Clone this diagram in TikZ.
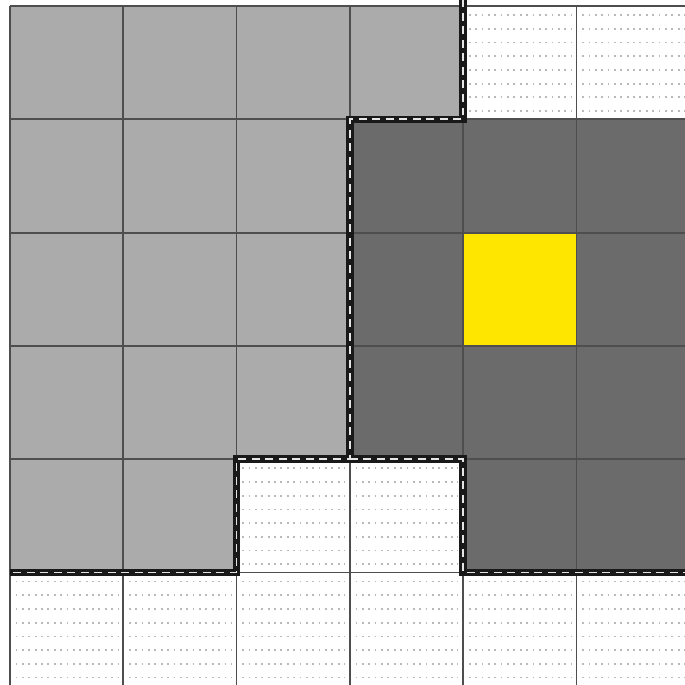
\documentclass[tikz,border=0pt]{standalone}
\usepackage{tikz}
\usetikzlibrary{calc}
\definecolor{lightcell}{HTML}{ABABAB}
\definecolor{darkcell}{HTML}{6B6B6B}
\definecolor{goalcell}{HTML}{FFE600}
\definecolor{gridgray}{HTML}{4E4E4E}

\begin{document}
\begin{tikzpicture}[
    cell/.style={fill=#1, draw=none},
    cell/.default={white},
    gridline/.style={draw=gridgray, line width=0.45pt},
    dotrow/.style={draw=gray!55, line width=0.45pt, dash pattern=on 0.45pt off 1.15pt},
    wall/.style={draw=black!90, line width=1.9pt, line join=miter},
    walldash/.style={draw=white!90!black, line width=0.45pt, dash pattern=on 2pt off 1.4pt},
]
\useasboundingbox (-0.088,0.016) rectangle (5.958,6.053);

% ===== CELLS =====
\fill[cell] (0,0) rectangle (6,6);
\fill[cell=lightcell] (0,1) -- (0,6) -- (4,6) -- (4,5) -- (3,5) -- (3,2) -- (2,2) -- (2,1) -- cycle;
\fill[cell=darkcell] (3,2) -- (3,5) -- (6,5) -- (6,1) -- (4,1) -- (4,2) -- cycle;
\fill[cell=goalcell] (4,3) rectangle (5,4);

% dotted free cells
\foreach \c/\r in {4/5, 5/5, 2/1, 3/1, 0/0, 1/0, 2/0, 3/0, 4/0, 5/0} {
  \foreach \k in {0,...,7}
    \draw[dotrow] (\c+0.05, \r+0.92-\k*0.121) -- (\c+0.95, \r+0.92-\k*0.121);
}

% ===== GRID =====
\foreach \i in {0,...,6} {
  \draw[gridline] (\i,0) -- (\i,6);
  \draw[gridline] (0,\i) -- (6,\i);
}

% ===== WALLS =====
\draw[wall] (4,6.06) -- (4,5) -- (3,5) -- (3,2) -- (2,2) -- (2,1) -- (0,1);
\draw[wall] (3,2) -- (4,2) -- (4,1) -- (6,1);
\draw[walldash] (4,6.06) -- (4,5) -- (3,5) -- (3,2) -- (2,2) -- (2,1) -- (0,1);
\draw[walldash] (3,2) -- (4,2) -- (4,1) -- (6,1);

\end{tikzpicture}
\end{document}
